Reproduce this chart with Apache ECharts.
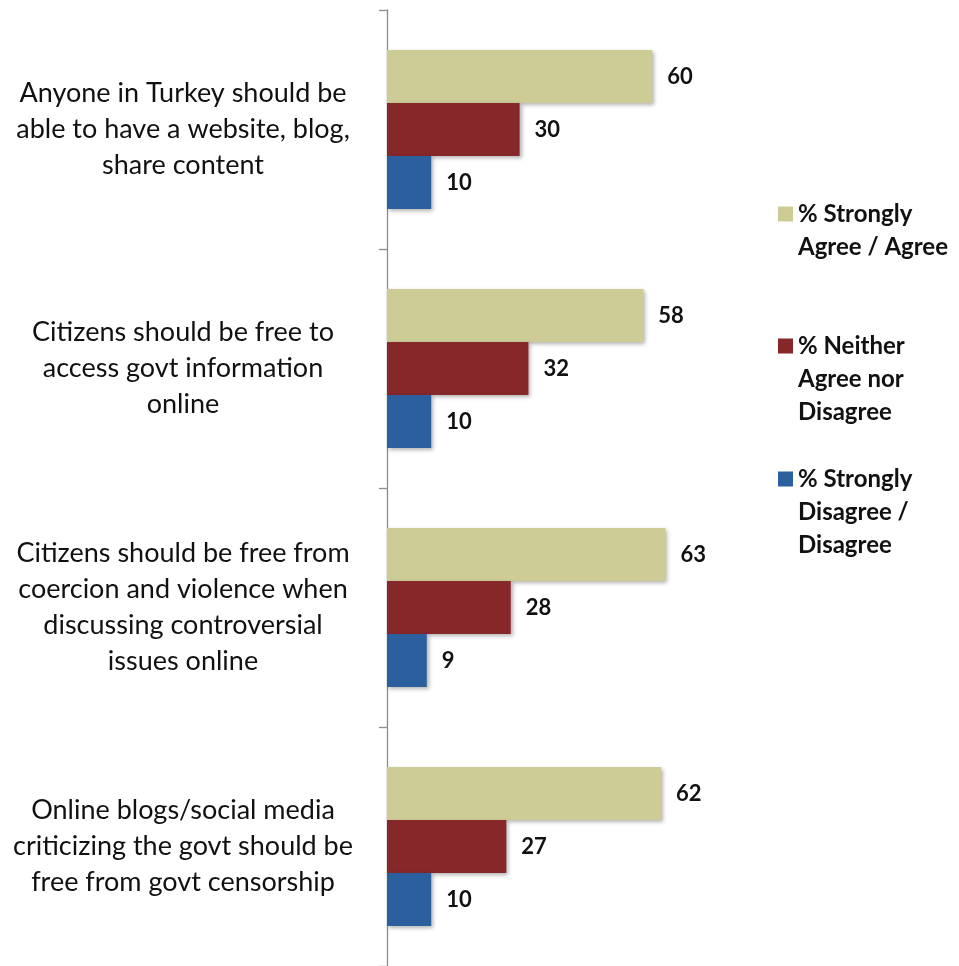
<!DOCTYPE html>
<html>
<head>
<meta charset="utf-8">
<script src="https://cdn.jsdelivr.net/npm/echarts@6/dist/echarts.min.js"></script>
<style>html,body{margin:0;padding:0;background:#fff}#c{width:959px;height:966px}</style>
</head>
<body>
<div id="c"></div>
<script>
const categories = [
  "Anyone in Turkey should be\nable to have a website, blog,\nshare content",
  "Citizens should be free to\naccess govt information\nonline",
  "Citizens should be free from\ncoercion and violence when\ndiscussing controversial\nissues online",
  "Online blogs/social media\ncriticizing the govt should be\nfree from govt censorship"
];
const seriesNames = ["% Strongly\nAgree / Agree", "% Neither\nAgree nor\nDisagree", "% Strongly\nDisagree /\nDisagree"];
const agree = [60, 58, 63, 62];
const neither = [30, 32, 28, 27];
const disagree = [10, 10, 9, 10];
const colors = ["#CDCB96", "#86272A", "#2C5F9E"];

const FONT = "Lato, 'Open Sans', sans-serif";
const chart = echarts.init(document.getElementById('c'));
const values = [agree, neither, disagree];
const lh = 33;
function legendFor(i, iconCenter) {
  const n = seriesNames[i].split("\n").length;
  const ih = 15;
  return {
    top: iconCenter - (2 * n - 1) * lh / 2, left: 778, orient: 'vertical', padding: 0,
    itemWidth: ih, itemHeight: ih, itemGap: 0,
    icon: 'rect',
    selectedMode: false,
    data: [seriesNames[i]],
    formatter: function (name) { return "\n".repeat(n - 1) + name; },
    textStyle: { fontFamily: FONT, fontWeight: 'bold', fontSize: 24, color: '#111', lineHeight: lh }
  };
}
chart.setOption({
  animation: false,
  backgroundColor: '#fff',
  color: colors,
  legend: [legendFor(0, 214), legendFor(1, 346), legendFor(2, 479)],
  grid: { left: 387, top: 10, width: 442, height: 958 },
  xAxis: { type: 'value', min: 0, max: 100, show: false },
  yAxis: {
    type: 'category', inverse: true, data: categories,
    axisLine: { show: true, lineStyle: { color: '#8c8c8c', width: 1.3 } },
    axisTick: { show: true, length: 8, lineStyle: { color: '#8c8c8c', width: 1.3 } },
    axisLabel: { align: 'center', margin: 204, fontFamily: FONT, fontSize: 27, color: '#111', lineHeight: 36 }
  },
  series: values.map((v, i) => ({
    type: 'bar', name: seriesNames[i], data: v,
    barGap: '0%', barCategoryGap: '33.5%',
    itemStyle: { color: colors[i], shadowColor: 'rgba(0,0,0,0.3)', shadowBlur: 4, shadowOffsetX: 2, shadowOffsetY: 2 },
    label: { show: true, position: 'right', distance: 15, fontFamily: FONT, fontWeight: 'bold', fontSize: 22, color: '#111' }
  }))
});
</script>
</body>
</html>
